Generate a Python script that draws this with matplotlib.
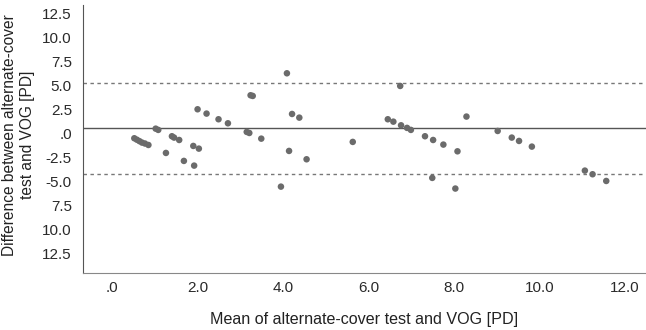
import matplotlib
matplotlib.use("Agg")
import matplotlib.pyplot as plt

# Bland-Altman data
mean_vals = [0.52, 0.58, 0.64, 0.70, 0.77, 0.85, 1.02, 1.08, 1.26, 1.40, 1.45, 1.57,
             1.68, 1.90, 2.03, 1.92, 2.00, 2.21, 2.49, 2.71, 3.15, 3.21, 3.24, 3.29,
             3.49, 4.09, 3.95, 4.14, 4.21, 4.38, 4.55, 5.63, 6.74, 6.45, 6.58, 6.76,
             6.90, 6.99, 7.32, 7.51, 7.49, 7.75, 8.08, 8.03, 8.29, 9.02, 9.35, 9.52,
             9.82, 11.06, 11.24, 11.56]
diff_vals = [-0.45, -0.60, -0.75, -0.90, -1.00, -1.15, 0.55, 0.42, -1.98, -0.24, -0.38, -0.63,
             -2.81, -1.25, -1.53, -3.30, 2.57, 2.12, 1.53, 1.11, 0.21, 0.10, 4.03, 3.96,
             -0.49, 6.32, -5.49, -1.77, 2.08, 1.70, -2.64, -0.83, 5.00, 1.53, 1.28, 0.90,
             0.63, 0.42, -0.24, -0.63, -4.58, -1.11, -1.81, -5.69, 1.81, 0.31, -0.38, -0.73,
             -1.32, -3.82, -4.20, -4.90]

mean_diff = 0.57
upper_loa = 5.28
lower_loa = -4.14

x_ticks = [0, 2, 4, 6, 8, 10, 12]
x_labels = [".0", "2.0", "4.0", "6.0", "8.0", "10.0", "12.0"]
y_ticks = [12.5, 10, 7.5, 5, 2.5, 0, -2.5, -5, -7.5, -10, -12.5]
y_labels = ["12.5", "10.0", "7.5", "5.0", "2.5", ".0", "-2.5", "-5.0", "7.5", "10.0", "12.5"]

plt.rcParams['font.family'] = ['Liberation Sans', 'DejaVu Sans']

fig = plt.figure(figsize=(6.46, 3.30), dpi=100)
ax = fig.add_axes([0.1285, 0.173, 0.8715, 0.812])

ax.axhline(mean_diff, color='#555555', lw=1.0, zorder=1)
ax.axhline(upper_loa, color='#777777', lw=1.0, ls=(0, (2.5, 2.5)), zorder=1)
ax.axhline(lower_loa, color='#777777', lw=1.0, ls=(0, (2.5, 2.5)), zorder=1)

ax.scatter(mean_vals, diff_vals, s=22, color='#6b6b6b', edgecolors='none', zorder=3)

ax.set_xlim(-0.68, 12.49)
ax.set_ylim(-14.48, 13.44)
ax.set_xticks(x_ticks)
ax.set_xticklabels(x_labels)
ax.set_yticks(y_ticks)
ax.set_yticklabels(y_labels)
ax.tick_params(length=0, labelsize=11, colors='#2a2a2a', pad=8)
ax.tick_params(axis='x', pad=6)

for side in ['top', 'right']:
    ax.spines[side].set_visible(False)
ax.spines['left'].set_color('#555555')
ax.spines['bottom'].set_color('#888888')

ax.set_xlabel("Mean of alternate-cover test and VOG [PD]", fontsize=11.6, color='#222222')
ax.xaxis.set_label_coords(0.5, -0.145)
ax.set_ylabel("Difference between alternate-cover\ntest and VOG [PD]", fontsize=11.2,
              color='#222222', linespacing=1.2)
ax.yaxis.label.set_va('center')
ax.yaxis.set_label_coords(-0.1146, 0.515)

fig.savefig("out.png", dpi=100)
